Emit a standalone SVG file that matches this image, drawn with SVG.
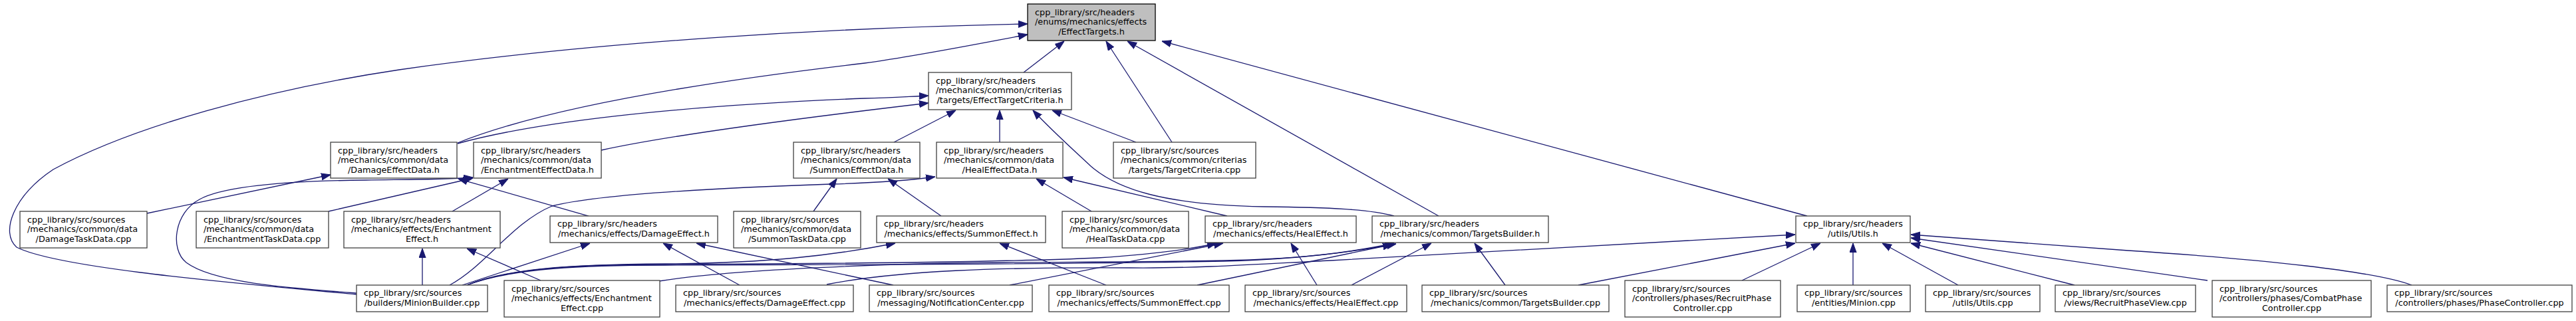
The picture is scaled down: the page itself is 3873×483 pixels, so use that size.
<svg xmlns="http://www.w3.org/2000/svg" width="3873" height="483" viewBox="0 0 3873 483">
<style>
.n rect{fill:#fff;stroke:#404040;stroke-width:1.3}
.root rect{fill:#bfbfbf;stroke:#000;stroke-width:1.3}
text{font-family:"DejaVu Sans","Liberation Sans",sans-serif;font-size:12.8px;fill:#000}
.m{text-anchor:middle}
#edges path{fill:none;stroke:#191970;stroke-width:1.3;marker-end:url(#ah)}
</style>
<defs>
<marker id="ah" markerUnits="userSpaceOnUse" markerWidth="14" markerHeight="11" viewBox="0 -5 13 10" refX="13" refY="0" orient="auto">
<path d="M0,-4.7L13,0L0,4.7z" fill="#191970" stroke="#191970" stroke-width="1"/>
</marker>
</defs>
<rect width="3873" height="483" fill="#fff"/>
<g id="edges">
<path d="M536,443C380,428 90,405 25,372C0,350 20,295 80,255C200,190 400,135 600,105C900,62 1250,42 1545,36"/>
<path d="M688,215C800,170 1000,130 1300,95C1380,84 1470,66 1545,52"/>
<path d="M688,216C800,185 1000,160 1300,148C1340,147 1370,145 1396,144"/>
<path d="M904,226C1000,205 1200,178 1396,155"/>
<path d="M1344,214L1437,166"/>
<path d="M1503,214L1503,166"/>
<path d="M2096,325C2060,315 2000,312 1900,311C1750,308 1680,285 1640,250C1610,222 1580,195 1553,166"/>
<path d="M1708,214L1582,166"/>
<path d="M1539,109L1600,62"/>
<path d="M1762,214L1663,62"/>
<path d="M2163,325L1695,62"/>
<path d="M2717,325L1747,62"/>
<path d="M221,321L497,263"/>
<path d="M494,318L711,268"/>
<path d="M536,441C430,433 320,425 280,395C255,375 262,320 300,300C340,278 450,272 550,271C620,270 680,270 711,267"/>
<path d="M680,318L764,269"/>
<path d="M885,325L689,269"/>
<path d="M1223,318L1258,269"/>
<path d="M1415,325L1335,269"/>
<path d="M676,429C730,400 770,335 830,310C900,292 1100,282 1250,277C1320,275 1370,271 1406,266"/>
<path d="M1641,318L1558,269"/>
<path d="M1845,325L1599,267"/>
<path d="M635,429L635,374"/>
<path d="M813,422L702,374"/>
<path d="M695,429L887,366"/>
<path d="M1112,429L997,366"/>
<path d="M1343,429L1047,366"/>
<path d="M702,429C760,405 850,398 1000,397C1150,396 1250,385 1346,366"/>
<path d="M702,429C770,402 880,398 1000,398C1200,397 1500,395 1650,388C1730,383 1790,375 1829,366"/>
<path d="M702,429C770,403 880,399 1000,399C1300,398 1600,398 1840,393C1960,390 2040,378 2096,366"/>
<path d="M991,423C1100,405 1350,396 1510,395C1650,394 1750,394 1840,392C1960,390 2040,378 2099,367"/>
<path d="M1518,429L1839,366"/>
<path d="M1663,429L1503,366"/>
<path d="M1980,429L1941,366"/>
<path d="M1800,429L2093,368"/>
<path d="M2032,429L2152,366"/>
<path d="M2263,429L2217,366"/>
<path d="M1243,428C1350,407 1500,402 1700,403C1800,404 1900,397 2000,392L2699,353"/>
<path d="M2373,429L2699,366"/>
<path d="M2619,422L2737,366"/>
<path d="M2786,429L2786,366"/>
<path d="M2944,429L2830,366"/>
<path d="M3119,429L2873,366"/>
<path d="M3319,422L2873,358"/>
<path d="M3626,429C3570,408 3400,390 3200,377C3050,367 2950,358 2873,353"/>
</g>
<g id="n_et" class="root"><rect x="1545" y="6" width="192" height="55"/><text x="1556" y="22.6">cpp_library/src/headers</text><text x="1556" y="37.3">/enums/mechanics/effects</text><text class="m" x="1641" y="52">/EffectTargets.h</text></g>
<g id="n_tc" class="n"><rect x="1396" y="109" width="215" height="56"/><text x="1407" y="125.6">cpp_library/src/headers</text><text x="1407" y="140.3">/mechanics/common/criterias</text><text class="m" x="1503.5" y="155">/targets/EffectTargetCriteria.h</text></g>
<g id="n_ded" class="n"><rect x="497" y="214" width="190" height="54"/><text x="508" y="230.6">cpp_library/src/headers</text><text x="508" y="245.3">/mechanics/common/data</text><text class="m" x="592" y="260">/DamageEffectData.h</text></g>
<g id="n_eed" class="n"><rect x="712" y="214" width="192" height="54"/><text x="723" y="230.6">cpp_library/src/headers</text><text x="723" y="245.3">/mechanics/common/data</text><text class="m" x="808" y="260">/EnchantmentEffectData.h</text></g>
<g id="n_sed" class="n"><rect x="1193" y="214" width="190" height="54"/><text x="1204" y="230.6">cpp_library/src/headers</text><text x="1204" y="245.3">/mechanics/common/data</text><text class="m" x="1288" y="260">/SummonEffectData.h</text></g>
<g id="n_hed" class="n"><rect x="1408" y="214" width="190" height="54"/><text x="1419" y="230.6">cpp_library/src/headers</text><text x="1419" y="245.3">/mechanics/common/data</text><text class="m" x="1503" y="260">/HealEffectData.h</text></g>
<g id="n_tccpp" class="n"><rect x="1674" y="214" width="214" height="54"/><text x="1685" y="230.6">cpp_library/src/sources</text><text x="1685" y="245.3">/mechanics/common/criterias</text><text class="m" x="1781" y="260">/targets/TargetCriteria.cpp</text></g>
<g id="n_dtd" class="n"><rect x="30" y="318" width="191" height="55"/><text x="41" y="334.6">cpp_library/src/sources</text><text x="41" y="349.3">/mechanics/common/data</text><text class="m" x="125.5" y="364">/DamageTaskData.cpp</text></g>
<g id="n_etd" class="n"><rect x="295" y="318" width="199" height="55"/><text x="306" y="334.6">cpp_library/src/sources</text><text x="306" y="349.3">/mechanics/common/data</text><text class="m" x="394.5" y="364">/EnchantmentTaskData.cpp</text></g>
<g id="n_ee" class="n"><rect x="517" y="318" width="235" height="55"/><text x="528" y="334.6">cpp_library/src/headers</text><text x="528" y="349.3">/mechanics/effects/Enchantment</text><text class="m" x="634.5" y="364">Effect.h</text></g>
<g id="n_de" class="n"><rect x="827" y="325" width="252" height="40"/><text x="838" y="341.45">cpp_library/src/headers</text><text class="m" x="953" y="356.15">/mechanics/effects/DamageEffect.h</text></g>
<g id="n_std" class="n"><rect x="1103" y="318" width="191" height="55"/><text x="1114" y="334.6">cpp_library/src/sources</text><text x="1114" y="349.3">/mechanics/common/data</text><text class="m" x="1198.5" y="364">/SummonTaskData.cpp</text></g>
<g id="n_se" class="n"><rect x="1318" y="325" width="254" height="40"/><text x="1329" y="341.45">cpp_library/src/headers</text><text class="m" x="1445" y="356.15">/mechanics/effects/SummonEffect.h</text></g>
<g id="n_htd" class="n"><rect x="1597" y="318" width="190" height="55"/><text x="1608" y="334.6">cpp_library/src/sources</text><text x="1608" y="349.3">/mechanics/common/data</text><text class="m" x="1692" y="364">/HealTaskData.cpp</text></g>
<g id="n_he" class="n"><rect x="1812" y="325" width="227" height="40"/><text x="1823" y="341.45">cpp_library/src/headers</text><text class="m" x="1925.5" y="356.15">/mechanics/effects/HealEffect.h</text></g>
<g id="n_tb" class="n"><rect x="2063" y="325" width="265" height="40"/><text x="2074" y="341.45">cpp_library/src/headers</text><text class="m" x="2195.5" y="356.15">/mechanics/common/TargetsBuilder.h</text></g>
<g id="n_u" class="n"><rect x="2700" y="325" width="172" height="40"/><text x="2711" y="341.45">cpp_library/src/headers</text><text class="m" x="2786" y="356.15">/utils/Utils.h</text></g>
<g id="n_mb" class="n"><rect x="536" y="429" width="197" height="40"/><text x="547" y="445.45">cpp_library/src/sources</text><text class="m" x="634.5" y="460.15">/builders/MinionBuilder.cpp</text></g>
<g id="n_eecpp" class="n"><rect x="758" y="422" width="234" height="55"/><text x="769" y="438.6">cpp_library/src/sources</text><text x="769" y="453.3">/mechanics/effects/Enchantment</text><text class="m" x="875" y="468">Effect.cpp</text></g>
<g id="n_decpp" class="n"><rect x="1016" y="429" width="267" height="40"/><text x="1027" y="445.45">cpp_library/src/sources</text><text class="m" x="1149.5" y="460.15">/mechanics/effects/DamageEffect.cpp</text></g>
<g id="n_nc" class="n"><rect x="1307" y="429" width="245" height="40"/><text x="1318" y="445.45">cpp_library/src/sources</text><text class="m" x="1429.5" y="460.15">/messaging/NotificationCenter.cpp</text></g>
<g id="n_secpp" class="n"><rect x="1577" y="429" width="271" height="40"/><text x="1588" y="445.45">cpp_library/src/sources</text><text class="m" x="1712.5" y="460.15">/mechanics/effects/SummonEffect.cpp</text></g>
<g id="n_hecpp" class="n"><rect x="1872" y="429" width="243" height="40"/><text x="1883" y="445.45">cpp_library/src/sources</text><text class="m" x="1993.5" y="460.15">/mechanics/effects/HealEffect.cpp</text></g>
<g id="n_tbcpp" class="n"><rect x="2138" y="429" width="281" height="40"/><text x="2149" y="445.45">cpp_library/src/sources</text><text class="m" x="2278.5" y="460.15">/mechanics/common/TargetsBuilder.cpp</text></g>
<g id="n_rpc" class="n"><rect x="2443" y="422" width="234" height="55"/><text x="2454" y="438.6">cpp_library/src/sources</text><text x="2454" y="453.3">/controllers/phases/RecruitPhase</text><text class="m" x="2560" y="468">Controller.cpp</text></g>
<g id="n_minion" class="n"><rect x="2702" y="429" width="170" height="40"/><text x="2713" y="445.45">cpp_library/src/sources</text><text class="m" x="2787" y="460.15">/entities/Minion.cpp</text></g>
<g id="n_ucpp" class="n"><rect x="2895" y="429" width="172" height="40"/><text x="2906" y="445.45">cpp_library/src/sources</text><text class="m" x="2981" y="460.15">/utils/Utils.cpp</text></g>
<g id="n_rpv" class="n"><rect x="3090" y="429" width="211" height="40"/><text x="3101" y="445.45">cpp_library/src/sources</text><text class="m" x="3195.5" y="460.15">/views/RecruitPhaseView.cpp</text></g>
<g id="n_cpc" class="n"><rect x="3326" y="422" width="239" height="55"/><text x="3337" y="438.6">cpp_library/src/sources</text><text x="3337" y="453.3">/controllers/phases/CombatPhase</text><text class="m" x="3445.5" y="468">Controller.cpp</text></g>
<g id="n_pc" class="n"><rect x="3589" y="429" width="278" height="40"/><text x="3600" y="445.45">cpp_library/src/sources</text><text class="m" x="3728" y="460.15">/controllers/phases/PhaseController.cpp</text></g>
</svg>
